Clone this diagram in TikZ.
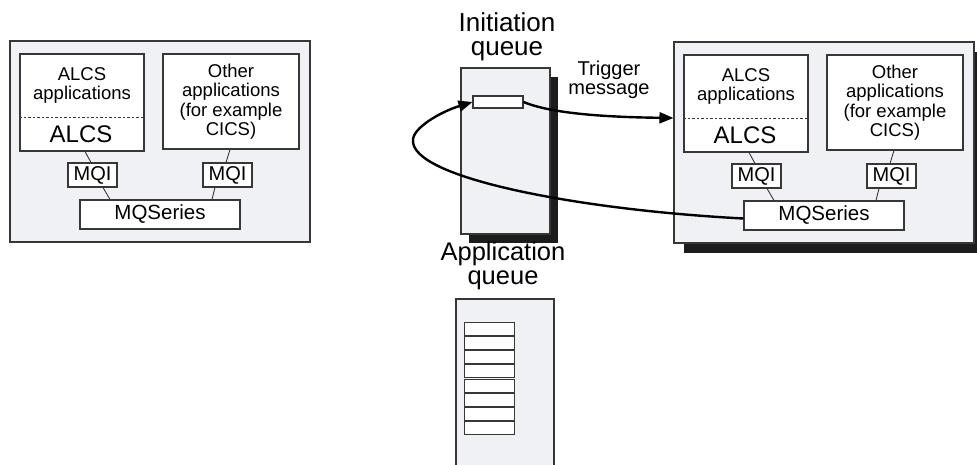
\documentclass[tikz,border=0pt]{standalone}
\usepackage{fontspec}
\setmainfont{Liberation Sans}
\usetikzlibrary{arrows.meta,calc}
\definecolor{panel}{RGB}{240,241,244}
\definecolor{edge}{RGB}{55,55,55}
\definecolor{shade}{RGB}{28,28,28}
\tikzset{
  box/.style={draw=edge, line width=1.1pt, rectangle, inner sep=0pt, anchor=center},
  outerbox/.style={box, fill=panel},
  innerbox/.style={box, fill=white},
  shadowbox/.style={rectangle, fill=shade, inner sep=0pt, draw=none},
  txt/.style={inner sep=0pt, align=center, text=black},
  small/.style={font=\fontsize{18.5}{19.5}\selectfont},
  big/.style={font=\fontsize{24}{24}\selectfont},
  mq/.style={font=\fontsize{20}{20}\selectfont},
  title/.style={font=\fontsize{26}{24}\selectfont},
  link/.style={draw=edge, line width=0.9pt},
  flow/.style={draw=black, line width=2.4pt, -{Triangle[length=14pt,width=11pt]}},
}
\newcommand\mqsystem[3]{%
  \begin{scope}[shift={(#2,#3)}]
    \node[outerbox, minimum width=300, minimum height=201] (#1outer) at (160,141.5) {};
    \node[innerbox, minimum width=124, minimum height=97] (#1alcs) at (82,102.5) {};
    \coordinate (#1dash) at (82,117);
    \draw[edge, line width=0.7pt, dash pattern=on 2.5pt off 2pt] (#1alcs.west |- #1dash) -- (#1alcs.east |- #1dash);
    \node[txt, small] (#1alcsapps) at (82,85.7) {ALCS\\applications};
    \node[txt, big] (#1alcsname) at (81,134.4) {ALCS};
    \node[innerbox, small, align=center, minimum width=136, minimum height=95] (#1other) at (231,101.5) {Other\\applications\\(for example\\CICS)};
    \node[innerbox, mq, minimum width=49, minimum height=24] (#1mqia) at (92.5,175) {MQI};
    \node[innerbox, mq, minimum width=49, minimum height=24] (#1mqib) at (227.5,175) {MQI};
    \node[innerbox, font=\fontsize{20.5}{20.5}\selectfont, minimum width=160, minimum height=29] (#1mqs) at (160,214.5) {MQSeries};
    \draw[link] ($(#1alcs.south)+(3,0)$) -- ($(#1mqia.north)+(-1.5,0)$);
    \draw[link] ($(#1mqia.south)+(10.5,0)$) -- ($(#1mqs.north)+(-50,0)$);
    \draw[link] ($(#1other.south)+(-1,0)$) -- ($(#1mqib.north)+(-1.5,0)$);
    \draw[link] ($(#1mqib.south)+(-12.5,0)$) -- ($(#1mqs.north)+(52,0)$);
  \end{scope}}
\begin{document}
\begin{tikzpicture}[x=1pt,y=-1pt]
  \useasboundingbox[fill=white] (0,0) rectangle (977,465);
  % left system
  \mqsystem{L}{0}{0}
  % right system with shadow
  \node[shadowbox, minimum width=300, minimum height=201] (Rshadow) at (834,152.5) {};
  \mqsystem{R}{664}{1}
  % initiation queue
  \node[txt, title] (iqlabel) at (507,36.5) {Initiation\\queue};
  \node[shadowbox, minimum width=89, minimum height=166] (iqshadow) at (513.5,160) {};
  \node[outerbox, minimum width=89, minimum height=166] (iq) at (505.5,151) {};
  \node[innerbox, minimum width=50, minimum height=12] (msg) at (498,102) {};
  % trigger message label
  \node[txt, font=\fontsize{20}{19}\selectfont] (trig) at (609,79.5) {Trigger\\message};
  % application queue
  \node[txt, font=\fontsize{25.5}{24}\selectfont] (aqlabel) at (503,266) {Application\\queue};
  \node[outerbox, minimum width=98, minimum height=176] (aq) at (505,387) {};
  \foreach \i in {0,...,7} {
    \node[innerbox, line width=0.9pt, minimum width=50, minimum height=13] (aqm\i) at (489,{328.6+14.25*\i}) {};
  }
  % trigger arrow
  \draw[flow] (msg.east) .. controls (550,113) and (600,117) .. (Router.west |- Rdash);
  % loop arrow
  \coordinate (loopleft) at (413,140);
  \draw[flow] ($(Rmqs.west)+(0,3)$) .. controls (580,210) and (410,178) .. (loopleft)
     .. controls (413,128) and (440,112) .. (msg.west);
\end{tikzpicture}
\end{document}
